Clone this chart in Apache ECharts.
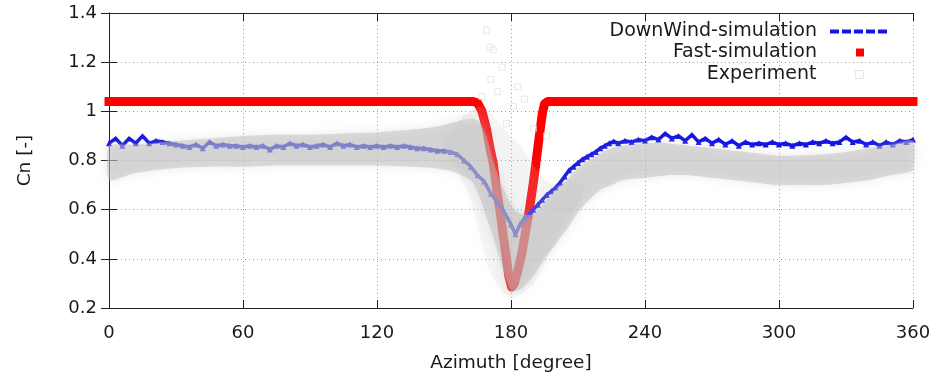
<!DOCTYPE html>
<html>
<head>
<meta charset="utf-8">
<script src="https://cdn.jsdelivr.net/npm/echarts@6/dist/echarts.min.js"></script>
<style>
html,body{margin:0;padding:0;background:#fff;}
#chart{width:950px;height:378px;}
</style>
</head>
<body>
<div id="chart"></div>
<script>
// ---- data ----
const xTicks = [0, 60, 120, 180, 240, 300, 360];
const yTicks = [0.2, 0.4, 0.6, 0.8, 1.0, 1.2, 1.4];

// DownWind-simulation
const downwindAz = [0,3,6,9,12,15,18,21,24,27,30,33,36,39,42,45,48,51,54,57,60,63,66,69,72,75,78,81,84,87,90,93,96,99,102,105,108,111,114,117,120,123,126,129,132,135,138,141,144,147,150,153,156,159,162,165,168,171,174,177,180,182,184,186,188,190,192,194,196,198,200,202,204,206,208,210,212,214,216,218,220,222,224,226,228,231,234,237,240,243,246,249,252,255,258,261,264,267,270,273,276,279,282,285,288,291,294,297,300,303,306,309,312,315,318,321,324,327,330,333,336,339,342,345,348,351,354,357,360];
const downwindCn = [0.87,0.89,0.86,0.89,0.87,0.90,0.87,0.88,0.875,0.87,0.865,0.86,0.855,0.865,0.85,0.875,0.86,0.865,0.86,0.86,0.855,0.86,0.855,0.86,0.845,0.86,0.855,0.87,0.86,0.865,0.855,0.86,0.865,0.855,0.87,0.86,0.865,0.855,0.86,0.855,0.86,0.855,0.86,0.855,0.86,0.855,0.85,0.85,0.845,0.84,0.84,0.835,0.825,0.80,0.775,0.74,0.715,0.665,0.63,0.59,0.54,0.50,0.54,0.565,0.58,0.60,0.62,0.64,0.66,0.675,0.69,0.71,0.735,0.76,0.775,0.79,0.805,0.815,0.825,0.835,0.85,0.86,0.87,0.878,0.87,0.88,0.875,0.885,0.88,0.895,0.885,0.91,0.89,0.90,0.88,0.905,0.875,0.89,0.87,0.885,0.865,0.88,0.86,0.875,0.865,0.87,0.865,0.875,0.865,0.87,0.86,0.87,0.865,0.875,0.87,0.88,0.87,0.875,0.895,0.875,0.88,0.865,0.875,0.86,0.875,0.865,0.88,0.875,0.885];

// Fast-simulation
const fastAz = [0,163,165,167,169,170.6,172,173.6,175,176.6,178,179,180.3,181.5,183,184.8,186.5,188.4,190,191.3,192.7,194,195,196.5,360];
const fastCn = [1.04,1.04,1.035,1.00,0.93,0.85,0.79,0.68,0.60,0.49,0.40,0.33,0.285,0.30,0.35,0.42,0.51,0.61,0.71,0.80,0.90,0.99,1.03,1.04,1.04];

// Experiment: envelope of the dense cloud of measured points
const expAz = [0,10,20,30,45,60,75,90,105,120,135,145,152,158,163,166,169,172,175,178,180,183,186,190,195,200,205,210,215,220,225,230,240,250,260,270,280,290,300,310,320,330,340,350,360];
const expLo = [0.72,0.745,0.76,0.77,0.775,0.775,0.78,0.78,0.78,0.78,0.775,0.77,0.76,0.74,0.71,0.65,0.57,0.49,0.40,0.31,0.27,0.27,0.29,0.33,0.40,0.46,0.52,0.59,0.64,0.68,0.70,0.72,0.73,0.74,0.74,0.73,0.72,0.71,0.70,0.70,0.70,0.71,0.72,0.74,0.76];
const expHi = [0.86,0.865,0.87,0.88,0.89,0.90,0.905,0.905,0.91,0.915,0.925,0.935,0.95,0.965,0.97,0.955,0.90,0.80,0.72,0.66,0.62,0.59,0.58,0.58,0.63,0.68,0.72,0.77,0.80,0.83,0.85,0.86,0.87,0.87,0.86,0.85,0.84,0.83,0.82,0.82,0.825,0.835,0.85,0.865,0.88];
// Experiment: sparse spread around the dip
const spreadAz = [150,156,162,166,170,175,180,185,190,195,200,206,212];
const spreadLo = [0.86,0.76,0.64,0.50,0.36,0.28,0.24,0.26,0.30,0.38,0.47,0.56,0.66];
const spreadHi = [0.88,0.95,1.00,1.02,1.00,0.95,0.90,0.85,0.78,0.72,0.70,0.72,0.70];
// Experiment: isolated outliers
const outlierAz = [169,170.5,172,171,176,174,183,186,163,178,190,167,181,160,196];
const outlierCn = [1.33,1.26,1.25,1.13,1.18,1.08,1.10,1.05,0.99,0.95,0.93,1.06,1.02,0.97,0.90];

// ---- chart ----
const FONT = 'DejaVu Sans';
const TXT = '#1a1a1a';

function bandRenderer(az, lo, hi, fill, blur, shadow) {
  return function (params, api) {
    if (params.dataIndex !== 0) return null;
    const pts = [];
    for (let i = 0; i < az.length; i++) pts.push(api.coord([az[i], hi[i]]));
    for (let i = az.length - 1; i >= 0; i--) pts.push(api.coord([az[i], lo[i]]));
    return {
      type: 'polygon',
      shape: { points: pts, smooth: 0.2 },
      style: { fill: fill, shadowBlur: blur, shadowColor: shadow },
      silent: true
    };
  };
}

const chart = echarts.init(document.getElementById('chart'), null, { renderer: 'canvas' });

const axisCommon = {
  axisLine: { show: true, lineStyle: { color: '#222', width: 1 } },
  axisTick: { show: true, inside: true, length: 8, lineStyle: { color: '#222' } },
};

const option = {
  animation: false,
  backgroundColor: '#fff',
  grid: { left: 109, right: 37, top: 13, bottom: 66, containLabel: false },
  legend: [
    {
      data: [{ name: 'DownWind-simulation', icon: 'path://M0,0h9v4h-9z M12,0h9v4h-9z M24,0h9v4h-9z M36,0h9v4h-9z M48,0h9v4h-9z' }],
      orient: 'vertical', align: 'right', right: 63, top: 22, padding: 0,
      itemWidth: 57, itemHeight: 4, selectedMode: false,
      textStyle: { fontFamily: FONT, fontSize: 19, color: TXT, padding: [0, 8, 0, 0] }
    },
    {
      data: [{ name: 'Fast-simulation', icon: 'rect' }],
      orient: 'vertical', align: 'right', right: 86, top: 43, padding: 0,
      itemWidth: 8, itemHeight: 8, selectedMode: false,
      textStyle: { fontFamily: FONT, fontSize: 19, color: TXT, padding: [0, 34, 0, 0] }
    },
    {
      data: [{ name: 'Experiment', icon: 'rect', itemStyle: { color: 'rgba(255,255,255,0)', borderColor: '#e6e6e6', borderWidth: 1 } }],
      orient: 'vertical', align: 'right', right: 86, top: 65, padding: 0,
      itemWidth: 8, itemHeight: 8, selectedMode: false,
      textStyle: { fontFamily: FONT, fontSize: 19, color: TXT, padding: [0, 34, 0, 0] }
    }
  ],
  xAxis: [
    Object.assign({
      type: 'value', min: xTicks[0], max: xTicks[xTicks.length - 1], interval: 60,
      position: 'bottom',
      name: 'Azimuth [degree]', nameLocation: 'middle', nameGap: 46,
      nameTextStyle: { fontFamily: FONT, fontSize: 18.5, color: TXT },
      axisLabel: { fontFamily: FONT, fontSize: 18, color: TXT, margin: 16 },
      splitLine: { show: true, lineStyle: { color: '#a0a0a0', width: 1, type: [1, 3] } }
    }, axisCommon),
    Object.assign({
      type: 'value', min: xTicks[0], max: xTicks[xTicks.length - 1], interval: 60,
      position: 'top', axisLabel: { show: false }, splitLine: { show: false }
    }, axisCommon)
  ],
  yAxis: [
    Object.assign({
      type: 'value', min: yTicks[0], max: yTicks[yTicks.length - 1], interval: 0.2,
      position: 'left',
      name: 'Cn [-]', nameLocation: 'middle', nameGap: 74,
      nameTextStyle: { fontFamily: FONT, fontSize: 18.5, color: TXT },
      axisLabel: { fontFamily: FONT, fontSize: 18, color: TXT, margin: 12,
        formatter: v => String(Math.round(v * 10) / 10) },
      splitLine: { show: true, lineStyle: { color: '#a0a0a0', width: 1, type: [1, 3] } }
    }, axisCommon),
    Object.assign({
      type: 'value', min: yTicks[0], max: yTicks[yTicks.length - 1], interval: 0.2,
      position: 'right', axisLabel: { show: false }, splitLine: { show: false }
    }, axisCommon)
  ],
  series: [
    {
      name: 'Fast-simulation', type: 'line', z: 2, clip: false,
      data: fastAz.map((a, i) => [a, fastCn[i]]),
      showSymbol: false, symbol: 'none',
      itemStyle: { color: '#ff0000' },
      lineStyle: { color: '#ff0000', width: 9, cap: 'square', join: 'round' }
    },
    {
      name: 'DownWind-simulation', type: 'line', z: 3,
      data: downwindAz.map((a, i) => [a, downwindCn[i]]),
      showSymbol: true, symbol: 'triangle', symbolSize: 6,
      itemStyle: { color: '#1414e6' },
      lineStyle: { color: '#1414e6', width: 3.5 }
    },
    {
      name: 'Experiment', type: 'custom', z: 4,
      data: spreadAz.map((a, i) => [a, spreadLo[i], spreadHi[i]]),
      encode: { x: 0, y: [1, 2] },
      itemStyle: { color: '#dddddd' },
      renderItem: bandRenderer(spreadAz, spreadLo, spreadHi, 'rgba(200,200,200,0.16)', 14, 'rgba(200,200,200,0.35)')
    },
    {
      name: 'Experiment', type: 'custom', z: 4,
      data: expAz.map((a, i) => [a, expLo[i], expHi[i]]),
      encode: { x: 0, y: [1, 2] },
      itemStyle: { color: '#dddddd' },
      renderItem: bandRenderer(expAz, expLo, expHi, 'rgba(188,188,188,0.48)', 10, 'rgba(188,188,188,0.7)')
    },
    {
      name: 'Experiment', type: 'scatter', z: 5,
      data: outlierAz.map((a, i) => [a, outlierCn[i]]),
      symbol: 'rect', symbolSize: 6,
      itemStyle: { color: 'rgba(255,255,255,0)', borderColor: '#e2e2e2', borderWidth: 1 }
    }
  ]
};
chart.setOption(option);
</script>
</body>
</html>
